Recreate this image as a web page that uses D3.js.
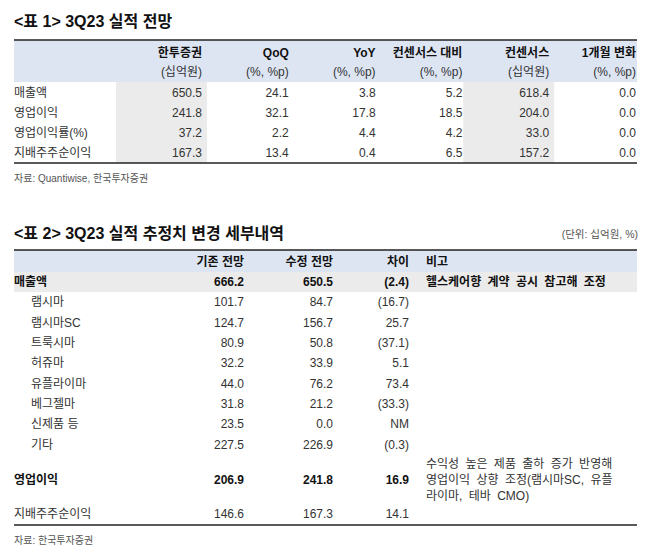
<!DOCTYPE html>
<html><head><meta charset="utf-8">
<script src="https://cdn.jsdelivr.net/npm/d3@7"></script>
<style>body{margin:0;background:#fff}text{font-family:"Liberation Sans","Noto Sans CJK KR",sans-serif}</style>
</head><body><svg id="c" width="647" height="557"></svg>
<script>
const t1Cols=["한투증권","QoQ","YoY","컨센서스 대비","컨센서스","1개월 변화"];
const t1Units=["(십억원)","(%, %p)","(%, %p)","(%, %p)","(십억원)","(%, %p)"];
const t1Rows=["매출액","영업이익","영업이익률(%)","지배주주순이익"];
const t1Vals=[["650.5","24.1","3.8","5.2","618.4","0.0"],["241.8","32.1","17.8","18.5","204.0","0.0"],["37.2","2.2","4.4","4.2","33.0","0.0"],["167.3","13.4","0.4","6.5","157.2","0.0"]];
const t2Cols=["기존 전망","수정 전망","차이"];
const t2Rows=["매출액","램시마","램시마SC","트룩시마","허쥬마","유플라이마","베그젤마","신제품 등","기타","영업이익","지배주주순이익"];
const t2Old=["666.2","101.7","124.7","80.9","32.2","44.0","31.8","23.5","227.5","206.9","146.6"];
const t2New=["650.5","84.7","156.7","50.8","33.9","76.2","21.2","0.0","226.9","241.8","167.3"];
const t2Diff=["(2.4)","(16.7)","25.7","(37.1)","5.1","73.4","(33.3)","NM","(0.3)","16.9","14.1"];
const t2Bold=[true,false,false,false,false,false,false,false,false,true,false];
const t2Indent=[false,true,true,true,true,true,true,true,true,false,false];
const t2Note=["헬스케어향 계약 공시 참고해 조정","","","","","","","","","수익성 높은 제품 출하 증가 반영해|영업이익 상향 조정(램시마SC, 유플|라이마, 테바 CMO)",""];
const t2NoteBold=[true,false,false,false,false,false,false,false,false,false,false];

const svg=d3.select("#c");
const txt="#333";
svg.append("text").attr("x",14).attr("y",27).attr("font-size",16).attr("font-weight","bold").attr("fill","#111").text("<표 1> 3Q23 실적 전망");
svg.append("rect").attr("x",14).attr("y",40).attr("width",623).attr("height",42).attr("fill","#dde5f3");
const x1=d3.scalePoint().domain(d3.range(6)).range([202,636]);
[0,4].forEach(i=>svg.append("rect").attr("x",x1(i)-86).attr("y",82).attr("width",91).attr("height",81).attr("fill","#ebebeb"));
svg.append("line").attr("x1",14).attr("x2",637).attr("y1",40).attr("y2",40).attr("stroke","#222").attr("stroke-width",1.5);
svg.append("line").attr("x1",14).attr("x2",637).attr("y1",163).attr("y2",163).attr("stroke","#222").attr("stroke-width",1.5);
t1Cols.forEach((c,i)=>{
 svg.append("text").attr("x",x1(i)).attr("y",57).attr("text-anchor","end").attr("font-size",12).attr("font-weight","bold").attr("fill","#111").text(c);
 svg.append("text").attr("x",x1(i)).attr("y",76).attr("text-anchor","end").attr("font-size",12).attr("fill",txt).text(t1Units[i]);
});
const y1=d3.scalePoint().domain(t1Rows).range([97,157]);
t1Rows.forEach((r,j)=>{
 svg.append("text").attr("x",14).attr("y",y1(r)).attr("font-size",12).attr("fill",txt).text(r);
 t1Vals[j].forEach((v,i)=>svg.append("text").attr("x",x1(i)).attr("y",y1(r)).attr("text-anchor","end").attr("font-size",12).attr("fill",txt).text(v));
});
svg.append("text").attr("x",14).attr("y",182).attr("font-size",10).attr("fill","#555").text("자료: Quantiwise, 한국투자증권");

svg.append("text").attr("x",14).attr("y",239).attr("font-size",16).attr("font-weight","bold").attr("fill","#111").text("<표 2> 3Q23 실적 추정치 변경 세부내역");
svg.append("text").attr("x",638).attr("y",238).attr("text-anchor","end").attr("font-size",10.5).attr("fill","#555").text("(단위: 십억원, %)");
svg.append("rect").attr("x",14).attr("y",250).attr("width",623).attr("height",22).attr("fill","#dde5f3");
svg.append("rect").attr("x",14).attr("y",272).attr("width",623).attr("height",20).attr("fill","#ebebeb");
svg.append("line").attr("x1",14).attr("x2",637).attr("y1",250).attr("y2",250).attr("stroke","#222").attr("stroke-width",1.5);
svg.append("line").attr("x1",14).attr("x2",637).attr("y1",525).attr("y2",525).attr("stroke","#222").attr("stroke-width",1.5);
const x2=d3.scaleOrdinal().domain(t2Cols).range([244,333,409]);
t2Cols.forEach(c=>svg.append("text").attr("x",x2(c)).attr("y",266).attr("text-anchor","end").attr("font-size",12).attr("font-weight","bold").attr("fill","#111").text(c));
svg.append("text").attr("x",426).attr("y",266).attr("font-size",12).attr("font-weight","bold").attr("fill","#111").text("비고");
const y2=d3.scaleOrdinal().domain(t2Rows).range([286,306,327,347,367,388,408,428,449,484,518]);
t2Rows.forEach((r,j)=>{
 const b=t2Bold[j]?"bold":"normal", col=t2Bold[j]?"#111":txt, y=y2(r);
 svg.append("text").attr("x",t2Indent[j]?31:14).attr("y",y).attr("font-size",12).attr("font-weight",b).attr("fill",col).text(r);
 [t2Old[j],t2New[j],t2Diff[j]].forEach((v,i)=>svg.append("text").attr("x",x2(t2Cols[i])).attr("y",y).attr("text-anchor","end").attr("font-size",12).attr("font-weight",b).attr("fill",col).text(v));
 if(t2Note[j]){const ls=t2Note[j].split("|");const y0=y-(ls.length-1)/2*16;const nb=t2NoteBold[j];
  ls.forEach((l,k)=>svg.append("text").attr("x",426).attr("y",y0+k*16).attr("font-size",12).attr("font-weight",nb?"bold":"normal").attr("fill",nb?"#111":txt).attr("word-spacing",3).text(l));}
});
svg.append("text").attr("x",14).attr("y",544).attr("font-size",10).attr("fill","#555").text("자료: 한국투자증권");
</script></body></html>
